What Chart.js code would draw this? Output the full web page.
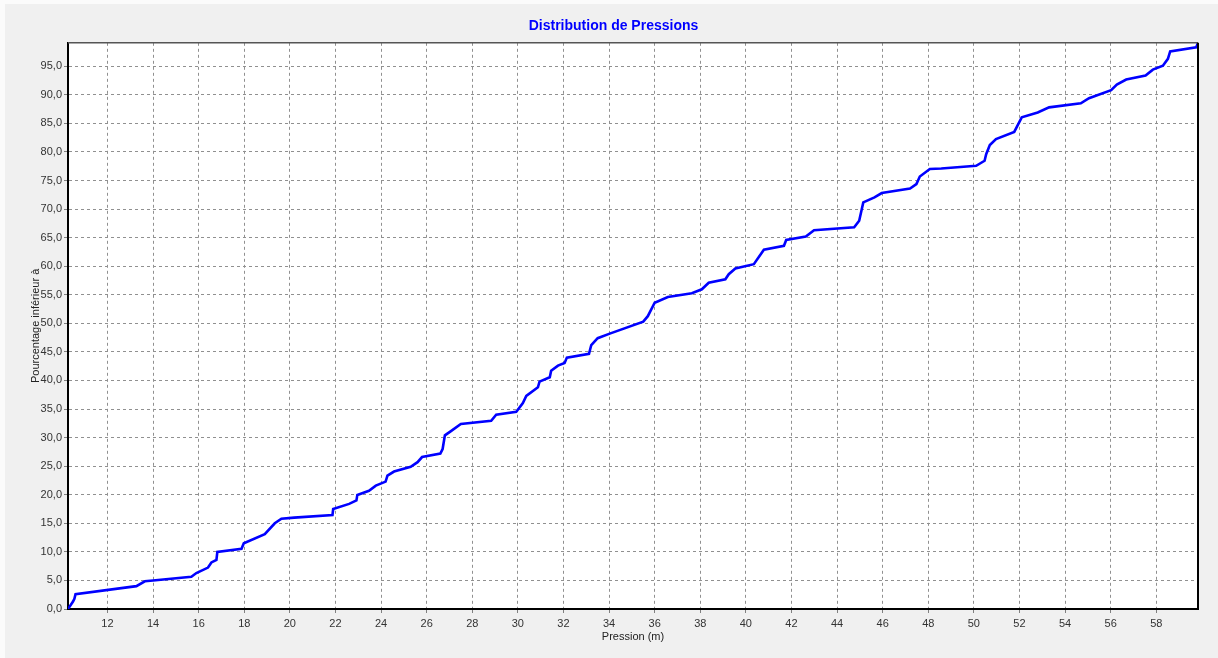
<!DOCTYPE html>
<html>
<head>
<meta charset="utf-8">
<script src="https://cdn.jsdelivr.net/npm/chart.js@4/dist/chart.umd.min.js"></script>
<style>
  html, body { margin: 0; padding: 0; background: #f0f0f0; }
  canvas { display: block; }
</style>
</head>
<body>
<canvas id="pressChart" width="1218" height="658"></canvas>
<script>
// pression (m) and pourcentage inférieur à
const pressions = [10.27, 10.49, 10.55, 10.6, 13.27, 13.64, 14.0, 15.68, 15.9, 16.41, 16.56, 16.78, 16.82,
  17.88, 17.98, 18.9, 19.34, 19.63, 20.19, 21.87, 21.9, 22.6, 22.92, 22.96, 23.47, 23.77, 24.2, 24.28,
  24.57, 25.3, 25.6, 25.8, 26.6, 26.7, 26.8, 27.05, 27.5, 28.83, 29.05, 29.93, 30.22, 30.37, 30.88,
  30.95, 31.4, 31.46, 31.76, 32.05, 32.15, 33.12, 33.22, 33.5, 34.03, 35.5, 35.7, 36.0, 36.58, 37.63,
  38.07, 38.37, 39.1, 39.25, 39.54, 40.35, 40.79, 41.67, 41.77, 42.63, 42.99, 44.75, 44.97, 45.15,
  45.64, 45.96, 47.2, 47.48, 47.63, 48.07, 48.57, 50.1, 50.47, 50.54, 50.7, 50.97, 51.77, 52.1, 52.8,
  53.3, 54.69, 55.05, 56.02, 56.27, 56.68, 57.53, 57.85, 58.29, 58.51, 58.61, 59.75, 59.83];
const pourcentages = [0, 1.3, 1.8, 2.6, 4.0, 4.85, 5.0, 5.65, 6.3, 7.25, 8.15, 8.6, 10.0,
  10.55, 11.5, 13.1, 15.0, 15.8, 16.0, 16.46, 17.5, 18.4, 19.0, 19.97, 20.7, 21.6, 22.3, 23.36,
  24.06, 24.9, 25.7, 26.6, 27.2, 28.0, 30.4, 31.1, 32.4, 32.95, 34.0, 34.5, 36.05, 37.3, 38.8,
  39.8, 40.55, 41.7, 42.6, 43.07, 44.0, 44.65, 46.2, 47.4, 48.2, 50.3, 51.25, 53.6, 54.6, 55.26,
  55.96, 57.1, 57.7, 58.6, 59.6, 60.35, 62.87, 63.57, 64.6, 65.2, 66.3, 66.8, 67.95, 71.17,
  72.05, 72.8, 73.6, 74.36, 75.7, 77.0, 77.1, 77.57, 78.45, 79.6, 81.2, 82.25, 83.5, 86.05, 86.9,
  87.8, 88.5, 89.4, 90.8, 91.8, 92.67, 93.37, 94.4, 95.1, 96.3, 97.6, 98.3, 99.1];
const xRange = [10.27, 59.83];
const yRange = [0, 99.1];

const fontFam = '"Liberation Sans", Arial, sans-serif';

const frame = {
  id: 'frame',
  beforeDraw(chart) {
    const {ctx, chartArea: a, width, height} = chart;
    ctx.save();
    ctx.fillStyle = '#fbfbfb';
    ctx.fillRect(0, 0, width, height);
    ctx.fillStyle = '#f0f0f0';
    ctx.fillRect(5, 4, width - 5, height - 4);
    ctx.fillStyle = '#ffffff';
    ctx.fillRect(a.left, a.top, a.right - a.left, a.bottom - a.top);
    ctx.restore();
  },
  afterDraw(chart) {
    const {ctx, chartArea: a} = chart;
    ctx.save();
    ctx.strokeStyle = '#555';
    ctx.lineWidth = 1.5;
    ctx.beginPath();
    ctx.moveTo(a.left, a.top);
    ctx.lineTo(a.right, a.top);
    ctx.stroke();
    ctx.strokeStyle = '#000';
    ctx.lineWidth = 2;
    ctx.beginPath();
    ctx.moveTo(a.right, a.top);
    ctx.lineTo(a.right, a.bottom);
    ctx.stroke();
    ctx.restore();
  }
};

new Chart(document.getElementById('pressChart'), {
  type: 'line',
  data: {
    datasets: [{
      data: pressions.map((p, i) => ({x: p, y: pourcentages[i]})),
      borderColor: '#0000ff',
      borderWidth: 2.6,
      pointRadius: 0,
      tension: 0,
      fill: false
    }]
  },
  options: {
    responsive: false,
    animation: false,
    layout: {padding: {left: 29, right: 20, top: 0, bottom: 0}},
    plugins: {
      legend: {display: false},
      tooltip: {enabled: false},
      title: {
        display: true,
        text: 'Distribution de Pressions',
        color: '#0000ff',
        font: {family: fontFam, size: 14, weight: 'bold'},
        padding: {top: 18, bottom: 8}
      }
    },
    scales: {
      x: {
        type: 'linear',
        min: xRange[0],
        max: xRange[1],
        afterFit: s => { s.height = 49; },
        ticks: {stepSize: 2, includeBounds: false, color: '#333', padding: 4, maxRotation: 0,
          font: {family: fontFam, size: 11}, callback: v => String(v)},
        grid: {color: '#909090', tickLength: 4, tickColor: '#808080'},
        border: {color: '#000', width: 2, dash: [3, 3]},
        title: {display: true, text: 'Pression (m)', color: '#222',
          font: {family: fontFam, size: 11}, padding: {top: 0, bottom: 14}}
      },
      y: {
        min: yRange[0],
        max: yRange[1],
        afterFit: s => { s.width = 39; },
        ticks: {stepSize: 5, includeBounds: false, color: '#333', padding: 2,
          font: {family: fontFam, size: 11}, callback: v => v.toFixed(1).replace('.', ',')},
        grid: {color: '#909090', tickLength: 4, tickColor: '#808080'},
        border: {color: '#000', width: 2, dash: [3, 3]},
        title: {display: true, text: 'Pourcentage inférieur à', color: '#222',
          font: {family: fontFam, size: 11}, padding: {top: 0, bottom: 0}}
      }
    }
  },
  plugins: [frame]
});
</script>
</body>
</html>
